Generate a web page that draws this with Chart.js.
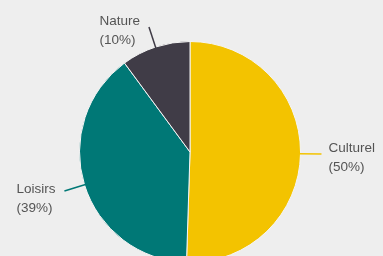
<!DOCTYPE html>
<html>
<head>
<meta charset="utf-8">
<script src="https://cdn.jsdelivr.net/npm/chart.js@4"></script>
<style>
  html, body { margin: 0; padding: 0; background: #eeeeee; overflow: hidden; }
  #wrap { width: 383px; height: 302px; position: relative; }
</style>
</head>
<body>
<div id="wrap"><canvas id="c"></canvas></div>
<script>
// Données
const categories = ['Culturel', 'Loisirs', 'Nature'];
const values     = [50, 39, 10];
const percents   = ['50%', '39%', '10%'];
const colors     = ['#f3c300', '#007876', '#403c47'];

// Étiquettes extérieures avec traits de rappel
const outsideLabels = {
  id: 'outsideLabels',
  afterDatasetsDraw(chart) {
    const { ctx } = chart;
    const arcs = chart.getDatasetMeta(0).data;
    ctx.save();
    ctx.font = '13.5px "Liberation Sans", Arial, sans-serif';
    ctx.textBaseline = 'middle';
    ctx.textAlign = 'left';
    arcs.forEach((arc, i) => {
      const { x, y, startAngle, endAngle, outerRadius } = arc.getProps(['x', 'y', 'startAngle', 'endAngle', 'outerRadius'], true);
      const mid = (startAngle + endAngle) / 2;
      const cos = Math.cos(mid), sin = Math.sin(mid);
      const x0 = x + cos * (outerRadius - 1), y0 = y + sin * (outerRadius - 1);
      const x1 = x + cos * (outerRadius + 21), y1 = y + sin * (outerRadius + 21);
      ctx.strokeStyle = colors[i];
      ctx.lineWidth = 1.5;
      ctx.beginPath();
      ctx.moveTo(x0, y0);
      ctx.lineTo(x1, y1);
      ctx.stroke();

      const lines = [categories[i], '(' + percents[i] + ')'];
      const w = Math.max(...lines.map(t => ctx.measureText(t).width));
      const tx = cos >= 0 ? x1 + 7 : x1 - 9 - w;
      // les étiquettes du bas-gauche sont un peu plus basses
      const ty = (cos < 0 && sin > 0) ? y1 - 2 : y1 - 6;
      ctx.fillStyle = '#545454';
      lines.forEach((t, k) => ctx.fillText(t, tx, ty + k * 19));
    });
    ctx.restore();
  }
};

new Chart(document.getElementById('c'), {
  type: 'pie',
  data: {
    labels: categories,
    datasets: [{
      data: values,
      backgroundColor: colors,
      borderColor: '#f4f4f4',
      borderWidth: 1,
      hoverOffset: 0
    }]
  },
  options: {
    responsive: true,
    maintainAspectRatio: false,
    animation: false,
    layout: { padding: { left: 79, right: 82, top: 41, bottom: 39 } },
    plugins: {
      legend: { display: false },
      tooltip: { enabled: false }
    }
  },
  plugins: [outsideLabels]
});
</script>
</body>
</html>
